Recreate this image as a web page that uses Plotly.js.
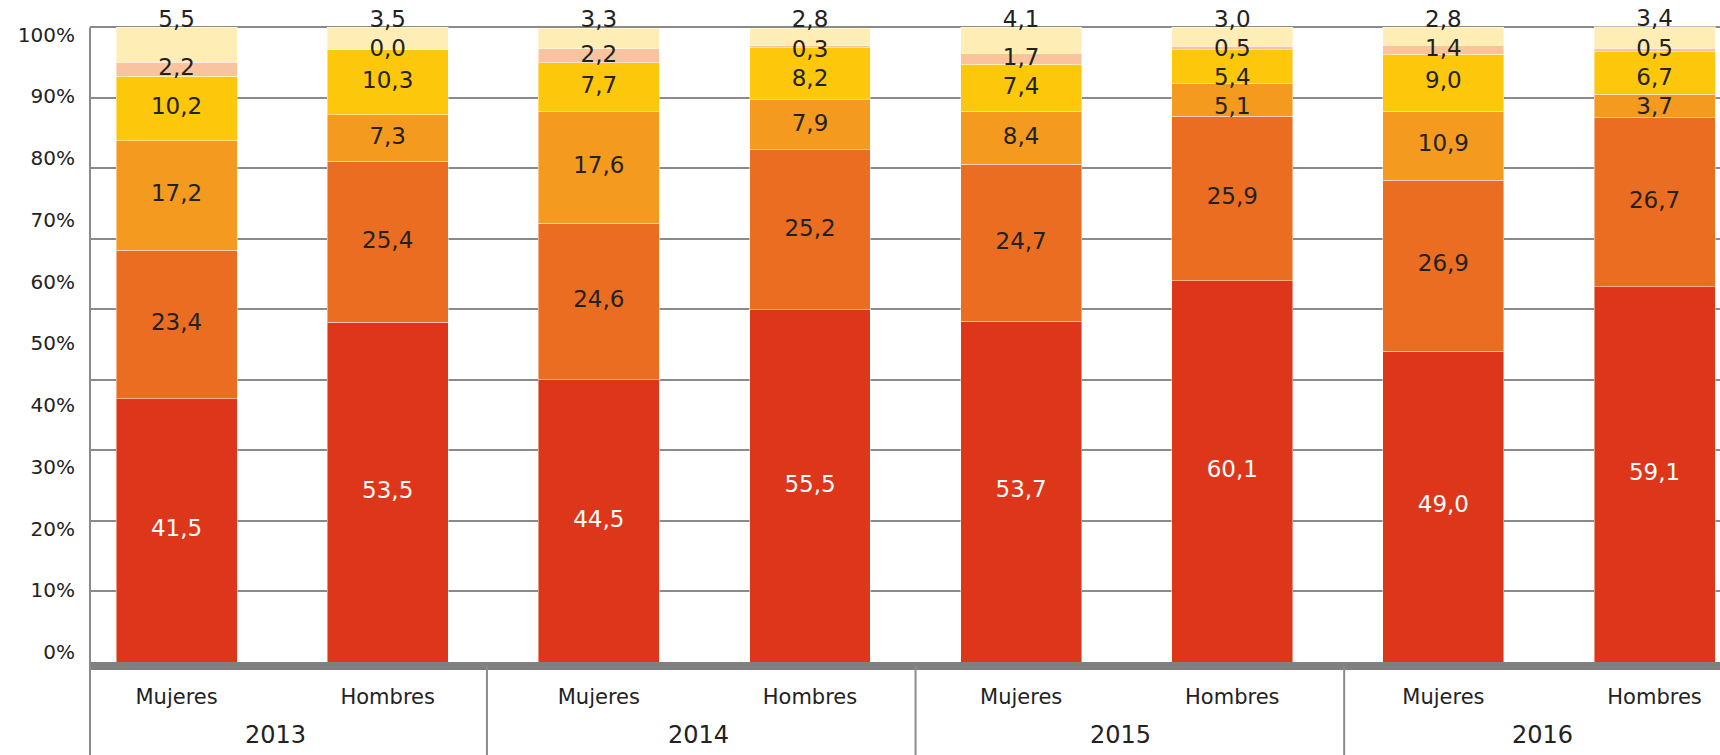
<!DOCTYPE html>
<html>
<head>
<meta charset="utf-8">
<script src="https://cdn.plot.ly/plotly-3.0.1.min.js"></script>
<style>html,body{margin:0;padding:0;background:#fff;}#chart{width:1720px;height:755px;}</style>
</head>
<body>
<div id="chart"></div>
<script>
// ---- data ----
var years = ["2013", "2013", "2014", "2014", "2015", "2015", "2016", "2016"];
var sexes = ["Mujeres", "Hombres", "Mujeres", "Hombres", "Mujeres", "Hombres", "Mujeres", "Hombres"];
var yearLabels = ["2013", "2014", "2015", "2016"];
var serie1 = [41.5, 53.5, 44.5, 55.5, 53.7, 60.1, 49.0, 59.1];
var serie2 = [23.4, 25.4, 24.6, 25.2, 24.7, 25.9, 26.9, 26.7];
var serie3 = [17.2, 7.3, 17.6, 7.9, 8.4, 5.1, 10.9, 3.7];
var serie4 = [10.2, 10.3, 7.7, 8.2, 7.4, 5.4, 9.0, 6.7];
var serie5 = [2.2, 0.0, 2.2, 0.3, 1.7, 0.5, 1.4, 0.5];
var serie6 = [5.5, 3.5, 3.3, 2.8, 4.1, 3.0, 2.8, 3.4];
var yTickValues = [0, 10, 20, 30, 40, 50, 60, 70, 80, 90, 100];

// ---- styles ----
var series = [serie1, serie2, serie3, serie4, serie5, serie6];
var colors = ["#DD361A", "#EA6D21", "#F39A1F", "#FDC70C", "#F9C49D", "#FEEDB4"];
var textColors = ["#ffffff", "#222222", "#222222", "#222222", "#222222", "#222222"];
var FONT = "DejaVu Sans, sans-serif";
var GRID = "#8a8a8a";
var Y_MAX = 104;

var cats = years.map(function (y, i) { return y + " " + sexes[i]; });
function fmt(v) { return v.toFixed(1).replace(".", ","); }

var traces = [];
// stacked bars
series.forEach(function (s, k) {
  traces.push({
    type: "bar", x: cats, y: s,
    marker: { color: colors[k], line: { color: "rgba(255,255,255,0.45)", width: 1 } },
    hoverinfo: "skip", showlegend: false
  });
});

// label positions computed from the stacked values (spread so they don't collide)
var TOP_OFF = 1.0, GAP = 4.6;
var labelY = series.map(function () { return []; });
cats.forEach(function (c, j) {
  var bases = [], acc = 0;
  series.forEach(function (s, k) { bases.push(acc); acc += s[j]; });
  var prev = null;
  for (var k = series.length - 1; k >= 0; k--) {
    var center = bases[k] + series[k][j] / 2;
    var y;
    if (k === series.length - 1) y = bases[k] + series[k][j] + TOP_OFF;
    else y = Math.min(center, prev - GAP);
    labelY[k][j] = y;
    prev = y;
  }
});
series.forEach(function (s, k) {
  traces.push({
    type: "scatter", mode: "text", x: cats, y: labelY[k],
    text: s.map(fmt), textposition: "middle center",
    textfont: { family: FONT, size: 23, color: textColors[k] },
    cliponaxis: false, hoverinfo: "skip", showlegend: false
  });
});
// empty trace so the percentage label axis is drawn
traces.push({ type: "scatter", mode: "markers", x: [], y: [], yaxis: "y2", hoverinfo: "skip", showlegend: false });

var gridVals = [];
for (var g = 0; g <= 9; g++) gridVals.push(100 * g / 9);

var shapes = [];
// left axis line (0..100) and its extension through the label area, group dividers
shapes.push({ type: "line", xref: "paper", yref: "y", x0: 0, x1: 0, y0: 0, y1: 100, line: { color: GRID, width: 2 } });
shapes.push({ type: "line", xref: "paper", yref: "paper", x0: 0, x1: 0, y0: 0, y1: -0.16, line: { color: GRID, width: 2 } });
[1.47, 3.5, 5.53].forEach(function (p) {
  shapes.push({ type: "line", xref: "x", yref: "paper", x0: p, x1: p, y0: -0.005, y1: -0.16, line: { color: GRID, width: 2 } });
});

var annotations = yearLabels.map(function (yl, i) {
  return { text: yl, xref: "x", yref: "paper", x: 2 * i + 0.47, y: -0.111, showarrow: false,
           xanchor: "center", yanchor: "middle", font: { family: FONT, size: 24, color: "#222" } };
});

var layout = {
  width: 1720, height: 755,
  margin: { l: 90, r: 0, t: 2, b: 93 },
  paper_bgcolor: "#fff", plot_bgcolor: "#fff",
  barmode: "stack", bargap: 0.427,
  showlegend: false,
  xaxis: {
    type: "category", range: [-0.41, 7.31],
    tickvals: cats, ticktext: sexes,
    tickfont: { family: FONT, size: 21, color: "#222" },
    ticks: "", showgrid: false, zeroline: false,
    showline: true, linecolor: "#808080", linewidth: 8,
    ticklabelstandoff: 9
  },
  yaxis: {
    range: [0, Y_MAX], tickvals: gridVals, showticklabels: false,
    showgrid: true, gridcolor: GRID, gridwidth: 2,
    zeroline: false, showline: false, ticks: ""
  },
  yaxis2: {
    overlaying: "y", side: "left", anchor: "x",
    range: [-1.62, 105.3], tickvals: yTickValues,
    ticktext: yTickValues.map(function (v) { return v + "%"; }),
    tickfont: { family: FONT, size: 20, color: "#222" },
    showgrid: false, zeroline: false, showline: false, ticks: "",
    ticklabelstandoff: 14
  },
  shapes: shapes,
  annotations: annotations,
  font: { family: FONT, color: "#222" }
};

Plotly.newPlot("chart", traces, layout, { displayModeBar: false, staticPlot: true });
</script>
</body>
</html>
